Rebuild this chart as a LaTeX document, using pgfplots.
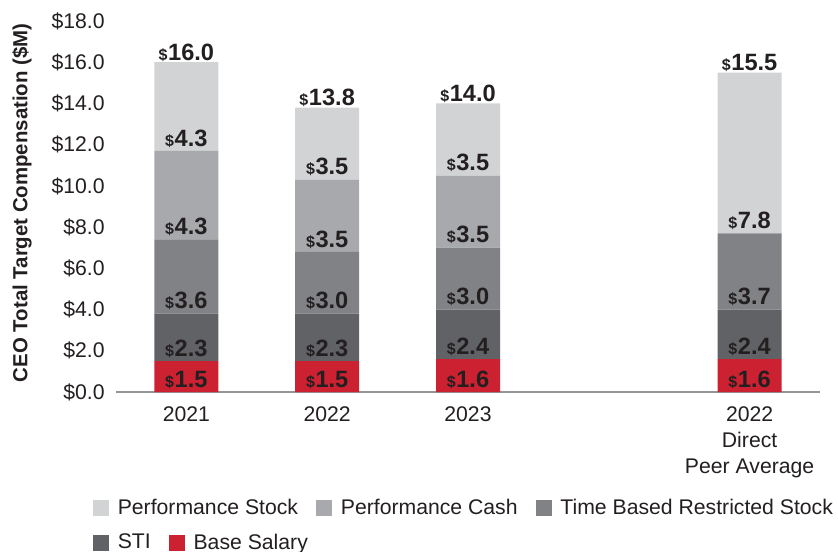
\documentclass[border=0pt]{standalone}
\usepackage{fontspec}
\setmainfont{Liberation Sans}
\usepackage{pgfplots}
\pgfplotsset{compat=1.18}
\usetikzlibrary{calc}

\definecolor{pstock}{HTML}{D1D3D4}
\definecolor{pcash}{HTML}{A7A9AC}
\definecolor{tbrs}{HTML}{808285}
\definecolor{sti}{HTML}{616265}
\definecolor{base}{HTML}{CC2131}
\definecolor{ink}{HTML}{231F20}
\definecolor{axisgray}{HTML}{939598}

\newcommand\sqimg[1]{\addlegendimage{legend image code/.code={\fill[#1] (0pt,-3.75pt) rectangle (7.5pt,3.75pt);}}}

\pgfplotsset{
  common/.style={
    width=352pt, height=185.5pt, scale only axis,
    xmin=-0.5, xmax=4.5, ymin=0, ymax=18,
    /pgf/number format/assume math mode=true,
  },
  sqlegend/.style={
    legend columns=-1,
    legend style={draw=none, fill=none, inner sep=0pt, outer sep=0pt,
      font=\fontsize{10.6}{12}\selectfont, text=ink,
      nodes={inner sep=0pt},
      /tikz/every odd column/.append style={column sep=4.5pt},
      /tikz/every even column/.append style={column sep=9pt},
      at={(axis description cs:0,0)}, anchor=west, xshift=-11.5pt},
  },
}

% stacked segments, bottom to top
\pgfplotstableread{
x base sti tbrs pcash pstock
0 1.5 2.3 3.6 4.3 4.3
1 1.5 2.3 3.0 3.5 3.5
2 1.6 2.4 3.0 3.5 3.5
4 1.6 2.4 3.7 0.0 7.8
}\comp

% value labels: x, position, value
\pgfplotstableread{
x y v
0 0.63 1.5
0 2.13 2.3
0 4.43 3.6
0 8.03 4.3
0 12.33 4.3
0 16.5 16.0
1 0.63 1.5
1 2.13 2.3
1 4.43 3.0
1 7.43 3.5
1 10.93 3.5
1 14.3 13.8
2 0.63 1.6
2 2.23 2.4
2 4.63 3.0
2 7.63 3.5
2 11.13 3.5
2 14.5 14.0
4 0.63 1.6
4 2.23 2.4
4 4.63 3.7
4 8.33 7.8
4 16.0 15.5
}\labels

\begin{document}
\begin{tikzpicture}
\begin{axis}[common, name=main,
  ybar stacked, bar width=32pt,
  axis x line*=bottom, axis y line*=left,
  y axis line style={draw=none},
  x axis line style={draw=axisgray, line width=0.9pt},
  major tick length=0pt,
  xtick={0,1,2,4},
  xticklabels={2021,2022,2023,{2022\\Direct\\Peer Average}},
  xticklabel style={align=center, inner sep=0pt, yshift=-7pt,
    font=\fontsize{10.6}{13}\selectfont, text=ink},
  ytick={0,2,...,18},
  yticklabel={\$\pgfmathprintnumber[fixed,fixed zerofill,precision=1]{\tick}},
  yticklabel style={inner sep=0pt, xshift=-5.5pt,
    font=\fontsize{10.6}{12}\selectfont, text=ink},
  ylabel={CEO Total Target Compensation (\$M)},
  every axis y label/.style={at={(axis description cs:-0.1335,0.51)},
    rotate=90, anchor=center, font=\fontsize{10.2}{12}\selectfont\bfseries, text=ink},
]
\addplot[fill=base, draw=none] table[x=x, y=base] {\comp};
\addplot[fill=sti, draw=none] table[x=x, y=sti] {\comp};
\addplot[fill=tbrs, draw=none] table[x=x, y=tbrs] {\comp};
\addplot[fill=pcash, draw=none] table[x=x, y=pcash] {\comp};
\addplot[fill=pstock, draw=none] table[x=x, y=pstock] {\comp};
\end{axis}

% labels and first legend row
\begin{axis}[common, hide axis, clip=false,
  sqlegend, legend style={yshift=-58pt}]
\sqimg{pstock}\addlegendentry{Performance Stock}
\sqimg{pcash}\addlegendentry{Performance Cash}
\sqimg{tbrs}\addlegendentry{Time Based Restricted Stock}
\addplot[draw=none, mark=none, nodes near coords, point meta=explicit,
  nodes near coords={{\fontsize{8}{8}\selectfont\$\kern0.3pt}\pgfmathprintnumber[fixed,fixed zerofill,precision=1]{\pgfplotspointmeta}},
  every node near coord/.append style={anchor=center, inner sep=0pt, text depth=0pt,
    font=\fontsize{11.8}{12}\selectfont\bfseries, text=ink}]
  table[x=x, y=y, meta=v] {\labels};
\end{axis}

% second legend row
\begin{axis}[common, hide axis,
  sqlegend, legend style={yshift=-75.5pt}]
\sqimg{sti}\addlegendentry{STI}
\sqimg{base}\addlegendentry{Base Salary}
\end{axis}

\pgfresetboundingbox
\path ($(main.south west)+(-58pt,-79.5pt)$) rectangle ($(main.north east)+(9pt,10.5pt)$);
\end{tikzpicture}
\end{document}
